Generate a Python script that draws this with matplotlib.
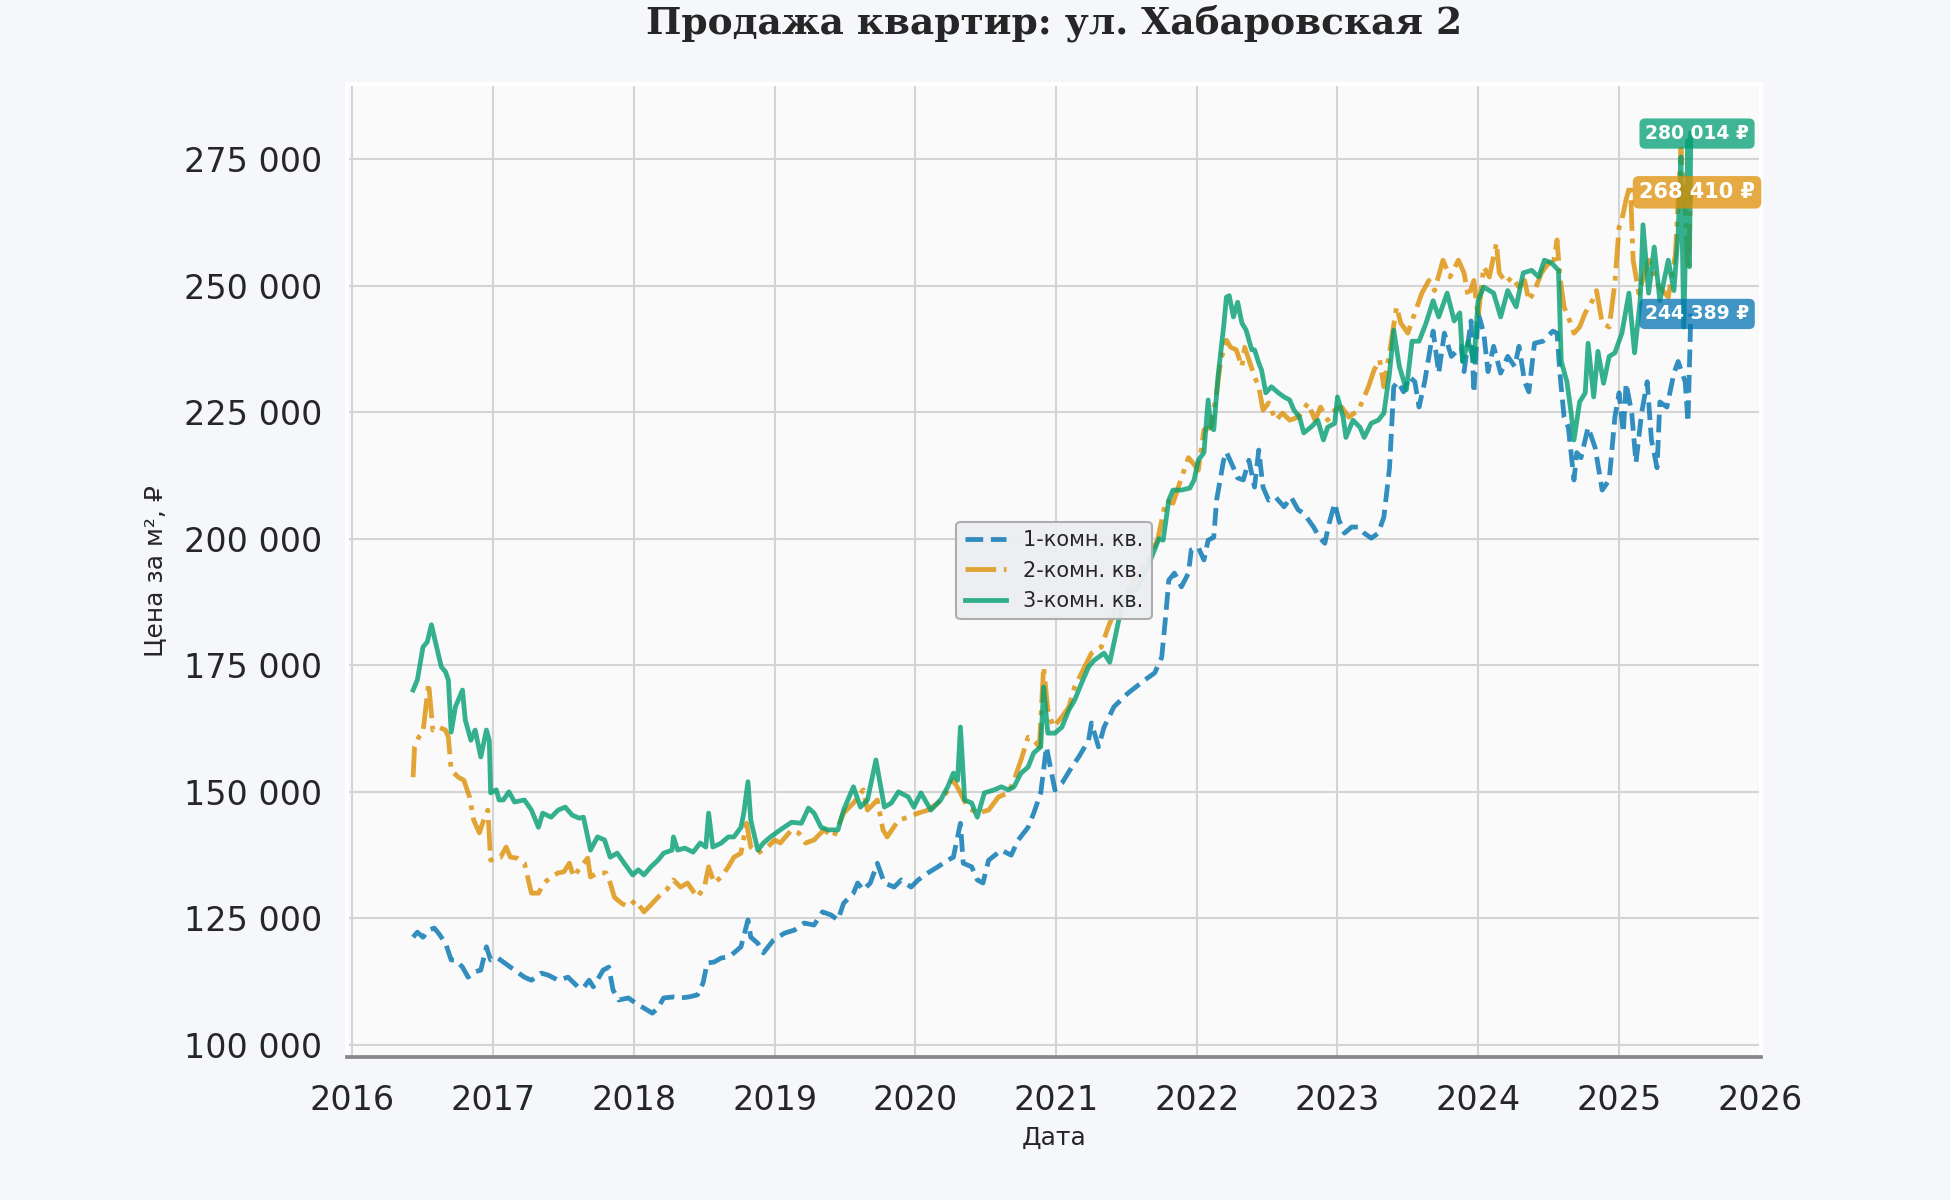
import matplotlib
matplotlib.use("Agg")
import matplotlib.pyplot as plt  # for plotting.
import matplotlib.dates as mdates
from matplotlib.ticker import FuncFormatter
import pandas as pd

# --- data: time in decimal years, price per m2 in thousands of rubles ---
t1 = [2016.43, 2016.46, 2016.50, 2016.54, 2016.58, 2016.61, 2016.66, 2016.70, 2016.73, 2016.78,
      2016.82, 2016.86, 2016.91, 2016.95, 2016.98, 2017.03, 2017.10, 2017.15, 2017.22, 2017.27,
      2017.34, 2017.39, 2017.46, 2017.53, 2017.60, 2017.64, 2017.68, 2017.71, 2017.78, 2017.82,
      2017.85, 2017.89, 2017.96, 2018.01, 2018.07, 2018.13, 2018.17, 2018.21, 2018.28, 2018.33,
      2018.39, 2018.45, 2018.49, 2018.52, 2018.57, 2018.62, 2018.67, 2018.71, 2018.76, 2018.81,
      2018.83, 2018.88, 2018.92, 2018.99, 2019.07, 2019.14, 2019.21, 2019.28, 2019.34, 2019.40,
      2019.45, 2019.49, 2019.56, 2019.59, 2019.63, 2019.68, 2019.73, 2019.78, 2019.85, 2019.90,
      2019.97, 2020.02, 2020.09, 2020.16, 2020.23, 2020.27, 2020.32, 2020.34, 2020.40, 2020.44,
      2020.48, 2020.52, 2020.61, 2020.68, 2020.73, 2020.80, 2020.84, 2020.89, 2020.93, 2020.99,
      2021.04, 2021.11, 2021.16, 2021.23, 2021.25, 2021.30, 2021.34, 2021.41, 2021.51, 2021.63,
      2021.70, 2021.75, 2021.78, 2021.80, 2021.84, 2021.89, 2021.94, 2021.96, 2022.01, 2022.05,
      2022.08, 2022.12, 2022.14, 2022.19, 2022.21, 2022.26, 2022.29, 2022.33, 2022.37, 2022.41,
      2022.44, 2022.47, 2022.51, 2022.56, 2022.62, 2022.67, 2022.72, 2022.76, 2022.83, 2022.87,
      2022.91, 2022.94, 2022.98, 2023.01, 2023.05, 2023.10, 2023.15, 2023.19, 2023.24, 2023.29,
      2023.33, 2023.37, 2023.40, 2023.43, 2023.47, 2023.51, 2023.55, 2023.58, 2023.62, 2023.68,
      2023.72, 2023.76, 2023.81, 2023.88, 2023.90, 2023.95, 2023.97, 2024.00, 2024.04, 2024.07,
      2024.11, 2024.16, 2024.21, 2024.26, 2024.29, 2024.33, 2024.36, 2024.40, 2024.46, 2024.53,
      2024.56, 2024.58, 2024.61, 2024.64, 2024.68, 2024.70, 2024.73, 2024.78, 2024.83, 2024.88,
      2024.93, 2024.97, 2025.00, 2025.03, 2025.05, 2025.09, 2025.12, 2025.16, 2025.20, 2025.23,
      2025.27, 2025.29, 2025.34, 2025.39, 2025.42, 2025.47, 2025.49, 2025.51]
room1 = [121.3, 122.3, 121.3, 122.7, 123.1, 122.1, 120.1, 116.8, 116.8, 115.4,
         113.4, 114.4, 114.8, 119.4, 116.8, 117.2, 115.8, 114.8, 113.4, 112.8,
         114.2, 113.8, 112.8, 113.4, 111.5, 111.3, 112.8, 111.5, 114.8, 115.4,
         110.9, 108.9, 109.3, 108.3, 107.3, 106.3, 107.3, 109.3, 109.5, 109.3,
         109.5, 109.9, 112.2, 116.2, 116.4, 117.2, 117.4, 118.2, 119.4, 124.7,
         121.3, 120.1, 118.2, 120.7, 122.1, 122.7, 124.1, 123.7, 126.3, 125.7,
         124.7, 128.0, 130.0, 132.0, 130.6, 132.0, 135.9, 132.0, 131.2, 132.6,
         131.2, 132.6, 134.0, 135.2, 136.5, 137.1, 143.8, 135.9, 135.2, 132.6,
         132.0, 136.5, 138.5, 137.5, 140.5, 143.0, 145.8, 149.8, 158.9, 150.4,
         151.7, 154.9, 156.9, 160.2, 163.6, 158.9, 162.8, 166.8, 169.5, 172.1,
         173.5, 176.6, 185.3, 191.8, 193.2, 190.5, 193.2, 197.8, 198.3, 195.8,
         199.7, 200.3, 207.6, 215.5, 217.1, 214.0, 212.0, 211.6, 215.5, 210.2,
         217.5, 210.2, 207.6, 208.2, 206.3, 208.2, 205.7, 205.0, 202.3, 200.3,
         199.1, 203.0, 207.0, 203.7, 201.1, 202.3, 202.3, 201.1, 200.1, 201.1,
         204.3, 214.0, 230.0, 231.0, 229.0, 232.0, 231.0, 226.0, 231.0, 241.0,
         232.7, 240.6, 236.0, 238.0, 233.0, 243.0, 228.8, 244.6, 240.6, 233.0,
         238.0, 232.7, 236.0, 234.0, 238.0, 231.0, 229.0, 238.6, 239.0, 241.0,
         240.6, 232.7, 224.0, 222.0, 211.6, 217.0, 216.0, 222.0, 218.0, 209.6,
         211.6, 224.0, 228.8, 220.9, 230.7, 224.8, 215.0, 224.8, 231.0, 219.5,
         214.0, 227.0, 226.0, 232.7, 235.0, 231.0, 223.0, 244.389]

t2 = [2016.43, 2016.44, 2016.47, 2016.50, 2016.54, 2016.57, 2016.61, 2016.66, 2016.68, 2016.70,
      2016.75, 2016.79, 2016.83, 2016.86, 2016.90, 2016.93, 2016.96, 2016.98, 2017.02, 2017.05,
      2017.09, 2017.12, 2017.17, 2017.22, 2017.27, 2017.32, 2017.36, 2017.41, 2017.46, 2017.50,
      2017.54, 2017.57, 2017.62, 2017.67, 2017.69, 2017.74, 2017.80, 2017.83, 2017.86, 2017.91,
      2017.96, 2018.01, 2018.07, 2018.12, 2018.17, 2018.23, 2018.28, 2018.33, 2018.38, 2018.45,
      2018.50, 2018.53, 2018.57, 2018.62, 2018.67, 2018.71, 2018.76, 2018.80, 2018.83, 2018.88,
      2018.95, 2019.00, 2019.04, 2019.12, 2019.17, 2019.22, 2019.28, 2019.35, 2019.42, 2019.49,
      2019.56, 2019.63, 2019.66, 2019.73, 2019.77, 2019.80, 2019.88, 2019.95, 2020.02, 2020.09,
      2020.16, 2020.22, 2020.27, 2020.32, 2020.37, 2020.44, 2020.52, 2020.59, 2020.66, 2020.70,
      2020.75, 2020.80, 2020.84, 2020.88, 2020.91, 2020.94, 2020.98, 2021.04, 2021.09, 2021.13,
      2021.18, 2021.25, 2021.32, 2021.37, 2021.41, 2021.48, 2021.55, 2021.60, 2021.67, 2021.72,
      2021.78, 2021.83, 2021.89, 2021.94, 2021.97, 2022.01, 2022.05, 2022.10, 2022.14, 2022.17,
      2022.21, 2022.24, 2022.28, 2022.32, 2022.34, 2022.37, 2022.41, 2022.44, 2022.47, 2022.51,
      2022.56, 2022.61, 2022.66, 2022.72, 2022.79, 2022.84, 2022.88, 2022.93, 2022.98, 2023.03,
      2023.08, 2023.15, 2023.22, 2023.26, 2023.30, 2023.33, 2023.37, 2023.42, 2023.45, 2023.50,
      2023.55, 2023.60, 2023.65, 2023.69, 2023.75, 2023.80, 2023.86, 2023.90, 2023.93, 2023.97,
      2024.00, 2024.04, 2024.08, 2024.13, 2024.15, 2024.20, 2024.24, 2024.29, 2024.33, 2024.36,
      2024.40, 2024.45, 2024.50, 2024.53, 2024.56, 2024.58, 2024.61, 2024.65, 2024.68, 2024.72,
      2024.76, 2024.81, 2024.84, 2024.88, 2024.93, 2024.97, 2025.00, 2025.02, 2025.05, 2025.08,
      2025.10, 2025.14, 2025.21, 2025.28, 2025.35, 2025.40, 2025.44, 2025.47, 2025.49, 2025.51]
room2 = [152.9, 158.9, 160.8, 161.8, 171.5, 162.2, 162.8, 162.2, 160.8, 154.3,
         152.9, 152.3, 149.0, 144.4, 141.9, 144.4, 146.4, 136.5, 137.1, 137.1,
         139.1, 137.1, 136.9, 135.9, 130.0, 130.0, 132.0, 133.2, 134.0, 134.2,
         135.9, 133.2, 135.2, 136.9, 133.2, 134.0, 134.0, 132.0, 129.2, 128.0,
         127.3, 128.6, 126.3, 127.7, 129.2, 130.6, 132.6, 131.2, 132.0, 129.2,
         131.2, 135.2, 132.0, 133.2, 135.2, 137.1, 137.9, 143.8, 139.1, 137.9,
         139.1, 140.5, 139.9, 142.5, 141.9, 139.9, 140.5, 142.5, 141.1, 145.8,
         147.8, 150.4, 146.4, 148.4, 142.5, 141.1, 144.4, 145.0, 145.8, 146.4,
         147.8, 149.8, 152.3, 149.8, 147.0, 145.8, 146.4, 149.0, 149.8, 152.3,
         156.3, 160.8, 160.2, 158.9, 174.7, 166.2, 162.8, 164.8, 166.8, 170.7,
         173.5, 177.4, 178.6, 182.6, 185.3, 188.5, 191.8, 193.8, 197.0, 199.7,
         207.6, 207.0, 212.0, 216.0, 215.0, 213.5, 221.5, 222.0, 228.8, 235.3,
         239.2, 237.8, 237.3, 234.0, 237.8, 235.3, 232.0, 230.0, 225.4, 226.8,
         223.4, 224.8, 223.4, 224.0, 226.8, 223.4, 226.0, 223.4, 225.4, 226.0,
         224.0, 225.4, 230.0, 233.3, 235.3, 230.0, 236.7, 245.8, 242.6, 240.6,
         244.6, 248.5, 251.0, 249.0, 255.0, 251.7, 255.0, 252.5, 247.7, 251.0,
         243.8, 253.7, 251.7, 258.4, 252.5, 250.5, 251.7, 249.7, 251.0, 247.0,
         249.0, 252.5, 254.5, 253.7, 259.0, 251.7, 245.8, 243.0, 240.6, 241.8,
         244.6, 247.0, 249.0, 242.6, 241.8, 250.5, 261.6, 263.0, 267.0, 270.0,
         255.0, 248.5, 255.0, 250.0, 247.7, 256.0, 277.0, 265.0, 253.0, 268.41]

t3 = [2016.43, 2016.46, 2016.50, 2016.53, 2016.56, 2016.59, 2016.63, 2016.66, 2016.68, 2016.70,
      2016.73, 2016.78, 2016.80, 2016.84, 2016.87, 2016.91, 2016.95, 2016.97, 2016.98, 2017.02,
      2017.04, 2017.07, 2017.11, 2017.15, 2017.22, 2017.27, 2017.32, 2017.35, 2017.41, 2017.46,
      2017.51, 2017.56, 2017.61, 2017.64, 2017.69, 2017.74, 2017.79, 2017.83, 2017.88, 2017.93,
      2017.99, 2018.03, 2018.07, 2018.12, 2018.17, 2018.21, 2018.27, 2018.28, 2018.31, 2018.36,
      2018.42, 2018.47, 2018.51, 2018.53, 2018.56, 2018.62, 2018.67, 2018.71, 2018.76, 2018.78,
      2018.81, 2018.83, 2018.88, 2018.92, 2018.97, 2019.04, 2019.12, 2019.19, 2019.24, 2019.28,
      2019.33, 2019.38, 2019.45, 2019.49, 2019.56, 2019.61, 2019.66, 2019.72, 2019.78, 2019.83,
      2019.88, 2019.95, 2019.99, 2020.04, 2020.11, 2020.18, 2020.23, 2020.27, 2020.30, 2020.32,
      2020.35, 2020.40, 2020.44, 2020.49, 2020.56, 2020.61, 2020.66, 2020.70, 2020.75, 2020.80,
      2020.84, 2020.89, 2020.91, 2020.94, 2020.99, 2021.04, 2021.09, 2021.13, 2021.18, 2021.23,
      2021.27, 2021.34, 2021.38, 2021.41, 2021.46, 2021.51, 2021.58, 2021.67, 2021.73, 2021.76,
      2021.80, 2021.83, 2021.89, 2021.95, 2021.98, 2022.01, 2022.05, 2022.08, 2022.10, 2022.12,
      2022.15, 2022.19, 2022.21, 2022.23, 2022.26, 2022.29, 2022.32, 2022.35, 2022.39, 2022.41,
      2022.44, 2022.46, 2022.49, 2022.53, 2022.58, 2022.62, 2022.66, 2022.69, 2022.73, 2022.76,
      2022.81, 2022.86, 2022.90, 2022.93, 2022.98, 2023.00, 2023.04, 2023.06, 2023.11, 2023.16,
      2023.19, 2023.24, 2023.29, 2023.33, 2023.37, 2023.40, 2023.44, 2023.49, 2023.53, 2023.58,
      2023.63, 2023.68, 2023.72, 2023.78, 2023.83, 2023.87, 2023.89, 2023.93, 2023.97, 2024.00,
      2024.04, 2024.11, 2024.16, 2024.21, 2024.27, 2024.32, 2024.38, 2024.43, 2024.47, 2024.52,
      2024.57, 2024.59, 2024.63, 2024.66, 2024.68, 2024.72, 2024.76, 2024.78, 2024.82, 2024.85,
      2024.89, 2024.93, 2024.97, 2025.02, 2025.07, 2025.11, 2025.15, 2025.17, 2025.21, 2025.25,
      2025.29, 2025.35, 2025.39, 2025.42, 2025.44, 2025.46, 2025.49, 2025.50, 2025.51]
room3 = [170.1, 172.1, 178.6, 179.6, 183.0, 179.4, 174.7, 173.7, 172.1, 161.8,
         166.8, 170.1, 164.2, 160.2, 162.2, 156.9, 162.2, 160.2, 149.8, 150.4,
         148.4, 148.4, 150.0, 148.0, 148.4, 146.4, 143.0, 145.8, 145.0, 146.4,
         147.0, 145.4, 144.8, 145.0, 138.5, 141.1, 140.5, 137.1, 137.9, 135.9,
         133.6, 134.6, 133.6, 135.2, 136.5, 137.9, 138.5, 141.1, 138.5, 138.9,
         138.1, 139.9, 139.1, 145.8, 139.1, 139.9, 141.1, 141.1, 143.0, 145.8,
         152.0, 144.4, 138.5, 139.9, 141.1, 142.5, 144.0, 143.8, 146.8, 145.8,
         143.0, 142.5, 142.5, 146.4, 151.0, 147.0, 148.4, 156.3, 147.0, 147.8,
         150.0, 149.0, 147.0, 149.8, 146.4, 148.4, 151.0, 153.7, 152.3, 162.8,
         148.4, 147.8, 145.0, 149.8, 150.4, 151.0, 150.4, 151.0, 153.7, 154.9,
         157.7, 158.9, 170.7, 161.6, 161.6, 162.8, 166.2, 168.1, 171.5, 174.7,
         176.0, 177.4, 175.6, 179.4, 186.0, 189.0, 190.5, 195.8, 200.0, 199.7,
         207.6, 209.6, 209.6, 210.0, 211.6, 215.5, 217.0, 227.4, 222.0, 221.5,
         232.0, 241.8, 247.7, 248.0, 243.8, 246.7, 242.6, 241.2, 237.3, 237.3,
         234.7, 233.3, 228.8, 230.0, 228.8, 228.0, 227.4, 225.4, 224.0, 220.9,
         222.0, 223.4, 219.5, 222.0, 222.8, 228.0, 224.0, 220.0, 223.4, 222.0,
         220.0, 222.8, 223.4, 224.8, 232.7, 241.2, 234.0, 229.4, 239.0, 239.0,
         242.6, 247.0, 243.8, 248.5, 243.0, 244.6, 235.0, 239.0, 235.0, 247.0,
         249.7, 248.5, 243.8, 249.0, 245.8, 252.5, 253.0, 251.7, 255.0, 254.5,
         253.0, 235.0, 231.0, 224.8, 219.5, 227.0, 228.8, 238.6, 228.0, 237.0,
         230.7, 236.0, 236.7, 240.6, 248.5, 236.7, 247.0, 262.0, 248.5, 257.6,
         247.0, 255.0, 249.0, 260.4, 275.4, 241.8, 278.7, 253.7, 280.014]

series_names = ["1-комн. кв.", "2-комн. кв.", "3-комн. кв."]
series_colors = ["#0173B2", "#DE8F05", "#029E73"]
series_styles = ["--", "-.", "-"]
year_ticks = list(range(2016, 2027))
price_ticks = [100000, 125000, 150000, 175000, 200000, 225000, 250000, 275000]


def to_dates(years):
    """decimal years -> timestamps"""
    out = []
    for y in years:
        base = pd.Timestamp(year=int(y), month=1, day=1)
        days = 366 if base.is_leap_year else 365
        out.append(base + pd.Timedelta(days=(y - int(y)) * days))
    return out


def rub(v, pos=None):
    # 275000 -> "275 000"
    return f"{v:,.0f}".replace(",", " ")


fig = plt.figure(figsize=(13, 8), dpi=150, facecolor="#f5f7fa")
ax = fig.add_axes([0.178, 0.119, 0.725, 0.811])
ax.set_facecolor("#fafafa")

all_t = [t1, t2, t3]
all_v = [room1, room2, room3]
for i in range(3):
    dates = to_dates(all_t[i])
    vals = [v * 1000 for v in all_v[i]]
    ax.plot(dates, vals, series_styles[i], color=series_colors[i], lw=2.3,
            alpha=0.8, label=series_names[i], zorder=3)

# labels with the last value of each series
label_sizes = [9, 10, 9]
for i in range(3):
    last_d = to_dates([all_t[i][-1]])[0]
    last_v = all_v[i][-1] * 1000
    ax.annotate(rub(last_v) + " ₽", (last_d, last_v), xytext=(3, 0),
                textcoords="offset points", ha="center", va="center",
                fontsize=label_sizes[i], fontweight="bold", color="white", zorder=5,
                bbox=dict(boxstyle="round,pad=0.3", fc=series_colors[i],
                          ec="none", alpha=0.75))

# axes limits and ticks
ax.set_xlim(pd.Timestamp("2015-12-18"), pd.Timestamp("2026-01-04"))
ax.set_ylim(97600, 289800)
ax.set_xticks([pd.Timestamp(year=y, month=1, day=1) for y in year_ticks])
ax.xaxis.set_major_formatter(mdates.DateFormatter("%Y"))
ax.set_yticks(price_ticks)
ax.yaxis.set_major_formatter(FuncFormatter(rub))
ax.tick_params(axis="both", length=0, labelsize=16, colors="#262626")
ax.tick_params(axis="y", pad=12)
ax.tick_params(axis="x", pad=13)

ax.grid(True, color="#d4d4d4", lw=1.0, zorder=0)
ax.set_axisbelow(True)

for side in ["left", "top", "right"]:
    ax.spines[side].set_color("white")
    ax.spines[side].set_linewidth(2)
ax.spines["bottom"].set_color("#888888")
ax.spines["bottom"].set_linewidth(1.8)

ax.set_xlabel("Дата", fontsize=12, color="#262626", labelpad=4)
ax.set_ylabel("Цена за м², ₽", fontsize=12, color="#262626", labelpad=8)

leg = ax.legend(loc="center", fontsize=10, frameon=True, facecolor="#eceef2",
                edgecolor="#aaaaaa", framealpha=0.95)
for txt in leg.get_texts():
    txt.set_color("#262626")

# title is centred over the plotting area, not the whole figure
fig.text(0.178 + 0.725 / 2, 0.981, "Продажа квартир: ул. Хабаровская 2",
         ha="center", va="center", fontsize=18, fontweight="bold",
         family="DejaVu Serif", color="#262626")

fig.savefig("out.png", dpi=150, facecolor=fig.get_facecolor())
